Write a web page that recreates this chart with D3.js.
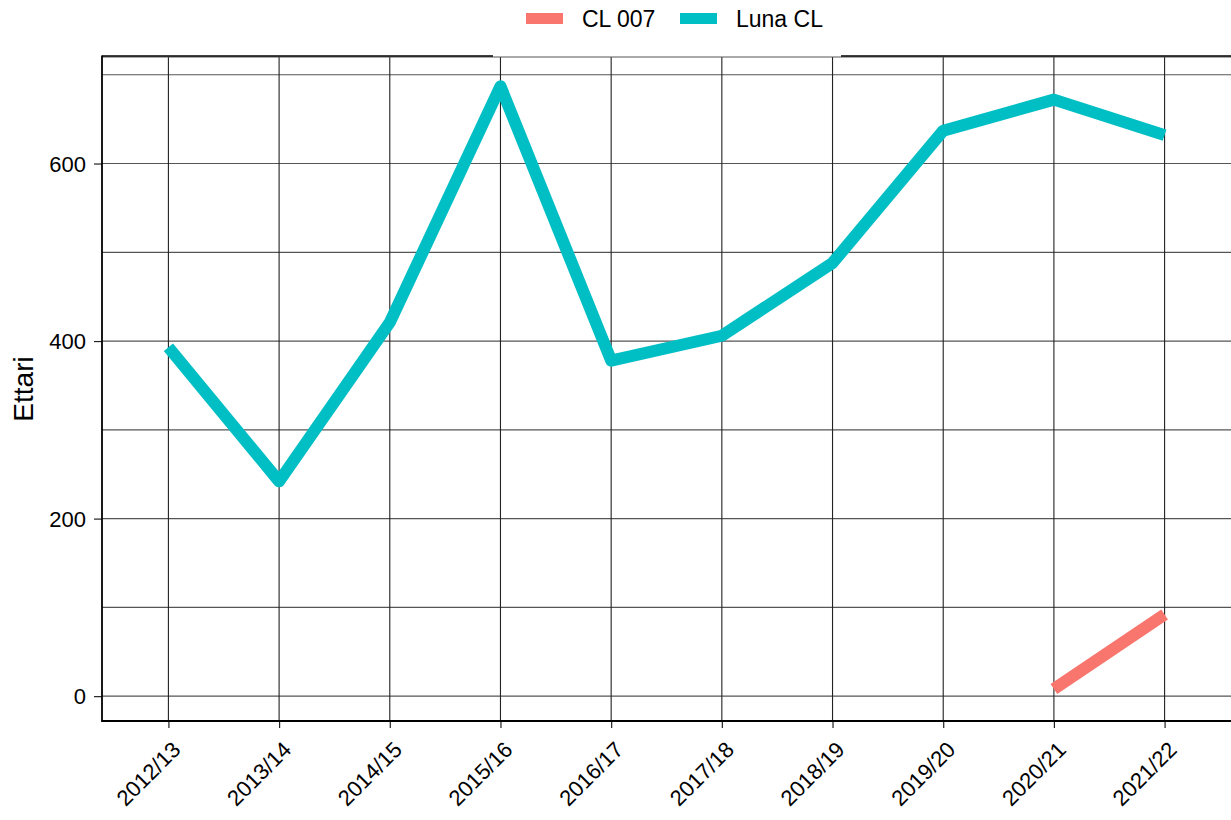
<!DOCTYPE html>
<html lang="en">
<head>
    <meta charset="UTF-8">
    <title>Ettari</title>
    <script src="https://d3js.org/d3.v7.min.js"></script>
</head>
<style type="text/css">
    body { margin: 0; background: white; }
    text { font-family: "Liberation Sans", Arial, sans-serif; fill: black; }
    .tick text { font-size: 22px !important; }
</style>
<body>
<div id="chart"></div>
<script>
    var width = 1231, height = 820;

    var seasons = ["2012/13", "2013/14", "2014/15", "2015/16", "2016/17",
        "2017/18", "2018/19", "2019/20", "2020/21", "2021/22"];
    var lunaCL = [393, 242, 421, 687, 378, 406, 488, 637, 672, 632];
    var cl007Seasons = ["2020/21", "2021/22"];
    var cl007 = [8, 92];
    var yTicks = [0, 200, 400, 600];
    var yGrid = [0, 100, 200, 300, 400, 500, 600, 700];
    var seriesNames = ["CL 007", "Luna CL"];
    var seriesColors = ["#F8766D", "#00BFC4"];

    var pLeft = 102, pRight = 1231, pTop = 57, pBottom = 721;

    var svg = d3.select("#chart").append("svg")
        .attr("width", width).attr("height", height);

    var x = d3.scalePoint().domain(seasons).range([pLeft, pRight]).padding(0.6);
    var y = d3.scaleLinear().domain([-28, 720]).range([pBottom, pTop]);

    // grid
    svg.append("g").selectAll("line").data(yGrid).enter()
        .append("line")
        .attr("x1", pLeft).attr("x2", pRight)
        .attr("y1", function (d) { return y(d); })
        .attr("y2", function (d) { return y(d); })
        .style("stroke", "#555").style("stroke-width", 1.2);

    svg.append("g").selectAll("line").data(seasons).enter()
        .append("line")
        .attr("x1", function (d) { return x(d); })
        .attr("x2", function (d) { return x(d); })
        .attr("y1", pTop).attr("y2", pBottom)
        .style("stroke", "#222").style("stroke-width", 1.1);

    // panel top border (partly hidden behind the legend box)
    svg.append("line").attr("x1", pLeft).attr("x2", pRight).attr("y1", pTop).attr("y2", pTop)
        .style("stroke", "#555").style("stroke-width", 1);
    svg.append("line").attr("x1", pLeft).attr("x2", 493).attr("y1", pTop - 1).attr("y2", pTop - 1)
        .style("stroke", "black").style("stroke-width", 1.5);
    svg.append("line").attr("x1", 841).attr("x2", pRight).attr("y1", pTop - 1).attr("y2", pTop - 1)
        .style("stroke", "black").style("stroke-width", 1.5);

    // lines
    var line = d3.line()
        .x(function (d) { return x(d[0]); })
        .y(function (d) { return y(d[1]); });

    svg.append("path")
        .datum(seasons.map(function (s, i) { return [s, lunaCL[i]]; }))
        .attr("d", line)
        .style("fill", "none").style("stroke", seriesColors[1])
        .style("stroke-width", 12).style("stroke-linejoin", "round").style("stroke-linecap", "butt");

    svg.append("path")
        .datum(cl007Seasons.map(function (s, i) { return [s, cl007[i]]; }))
        .attr("d", line)
        .style("fill", "none").style("stroke", seriesColors[0])
        .style("stroke-width", 12).style("stroke-linejoin", "round").style("stroke-linecap", "butt");

    // axes
    var yAxis = svg.append("g").attr("class", "y-axis").attr("transform", "translate(" + pLeft + ",0)")
        .call(d3.axisLeft(y).tickValues(yTicks).tickSize(8).tickPadding(8));
    var xAxis = svg.append("g").attr("class", "x-axis").attr("transform", "translate(0," + pBottom + ")")
        .call(d3.axisBottom(x).tickSize(7).tickPadding(6));

    [yAxis, xAxis].forEach(function (a) {
        a.attr("font-size", 22).attr("font-family", "Liberation Sans, Arial, sans-serif");
        a.select(".domain").remove();
        a.selectAll(".tick line").style("stroke", "#222").style("stroke-width", 1.2);
        a.selectAll(".tick text").attr("font-size", 22).style("fill", "black");
    });
    yAxis.selectAll("text").attr("dy", "0.35em");
    xAxis.selectAll("text")
        .attr("text-anchor", "end")
        .attr("x", 0).attr("y", 0)
        .attr("dx", 0).attr("dy", 0)
        .attr("transform", "translate(13,30) rotate(-45)");

    svg.append("line").attr("x1", pLeft).attr("x2", pLeft).attr("y1", pTop - 1.5).attr("y2", pBottom + 1)
        .style("stroke", "black").style("stroke-width", 1.8);
    svg.append("line").attr("x1", pLeft).attr("x2", pRight).attr("y1", pBottom).attr("y2", pBottom)
        .style("stroke", "black").style("stroke-width", 1.8);

    // y title
    svg.append("text")
        .attr("transform", "translate(33," + 389 + ") rotate(-90)")
        .attr("text-anchor", "middle")
        .style("font-size", "28px")
        .text("Ettari");

    // legend
    var legendX = [526, 680];
    var legend = svg.append("g").selectAll("g").data(seriesNames).enter()
        .append("g")
        .attr("transform", function (d, i) { return "translate(" + legendX[i] + ",0)"; });
    legend.append("rect")
        .attr("x", 0).attr("y", 13).attr("width", 37).attr("height", 11)
        .style("fill", function (d, i) { return seriesColors[i]; });
    legend.append("text")
        .attr("x", 56).attr("y", 27)
        .style("font-size", "23px")
        .text(function (d) { return d; });

    // force a style/layout pass so the tick labels pick up their size
    svg.selectAll(".tick text").each(function () {
        getComputedStyle(this).fontSize;
        this.getBoundingClientRect();
    });
</script>
</body>
</html>
